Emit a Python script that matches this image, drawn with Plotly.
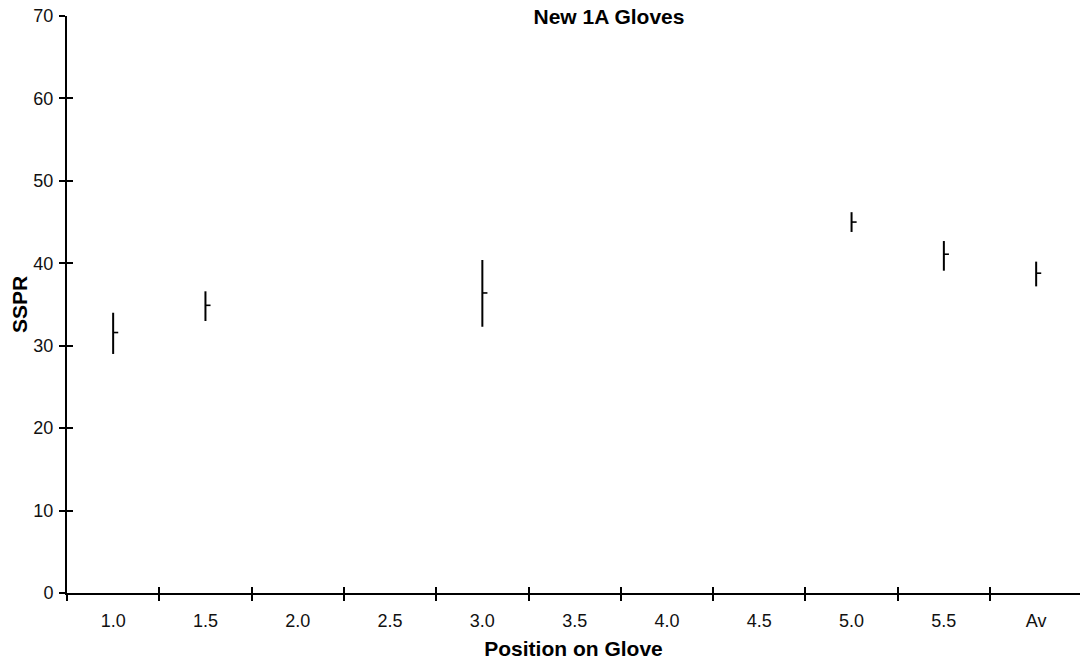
import plotly.graph_objects as go

categories = ["1.0", "1.5", "2.0", "2.5", "3.0", "3.5", "4.0", "4.5", "5.0", "5.5", "Av"]

# measured positions (only those with data)
positions = ["1.0", "1.5", "3.0", "5.0", "5.5", "Av"]
high = [34.0, 36.6, 40.4, 46.2, 42.7, 40.2]
low = [29.0, 33.0, 32.3, 43.8, 39.1, 37.2]
close = [31.6, 34.9, 36.4, 45.0, 41.1, 38.8]

y_ticks = [0, 10, 20, 30, 40, 50, 60, 70]

FONT = "Liberation Sans, Arial, sans-serif"
close_tick = 0.055  # horizontal length of close tick (category units)

# category index of each measured position (the category axis scale)
pos_index = [categories.index(p) for p in positions]

fig = go.Figure()

fig.add_trace(go.Scatter(
    x=pos_index,
    y=close,
    xaxis="x3", yaxis="y",
    mode="markers",
    marker=dict(size=2, color="rgba(0,0,0,0)"),
    error_y=dict(
        type="data", symmetric=False,
        array=[h - c for h, c in zip(high, close)],
        arrayminus=[c - l for c, l in zip(close, low)],
        width=0, thickness=2, color="black",
    ),
    error_x=dict(
        type="data", symmetric=False,
        array=[close_tick] * len(positions),
        arrayminus=[0] * len(positions),
        width=0, thickness=1.6, color="black",
    ),
    showlegend=False,
    hoverinfo="skip",
))

# invisible traces so the category axes (and inside tick overlay) are drawn
fig.add_trace(go.Scatter(
    x=[categories[0]], y=[0],
    mode="markers", marker=dict(color="rgba(0,0,0,0)"),
    showlegend=False, hoverinfo="skip",
))
fig.add_trace(go.Scatter(
    x=[categories[0]], y=[0], xaxis="x2", yaxis="y2",
    mode="markers", marker=dict(color="rgba(0,0,0,0)"),
    showlegend=False, hoverinfo="skip",
))

xrange = [-0.5, 10.475]
common_x = dict(
    type="category", categoryorder="array", categoryarray=categories,
    range=xrange, tickson="boundaries", showgrid=False, zeroline=False,
    automargin=False,
)

fig.update_layout(
    width=1080, height=664,
    margin=dict(l=67, r=0, t=16, b=71, autoexpand=False),
    paper_bgcolor="white", plot_bgcolor="white",
    font=dict(family=FONT, color="black", size=18),
    title=dict(
        text="<b>New 1A Gloves</b>",
        x=609 / 1080, xanchor="center", xref="container",
        y=1 - 17 / 664, yanchor="middle", yref="container",
        automargin=False,
        font=dict(family=FONT, size=21, color="black"),
    ),
    xaxis=dict(
        **common_x,
        showline=True, linecolor="black", linewidth=2,
        ticks="outside", ticklen=6, tickwidth=2, tickcolor="black",
        tickfont=dict(family=FONT, size=18, color="#111"),
        ticklabelstandoff=10, ticklabeloverflow="allow",
        title=dict(text="<b>Position on Glove</b>", standoff=12,
                   font=dict(family=FONT, size=21, color="black")),
    ),
    yaxis=dict(
        range=[0, 70], tickvals=y_ticks, showgrid=False, zeroline=False,
        showline=True, linecolor="black", linewidth=2,
        ticks="outside", ticklen=6, tickwidth=2, tickcolor="black",
        tickfont=dict(family=FONT, size=18, color="#111"),
        ticklabelstandoff=2, automargin=False, ticklabeloverflow="allow",
        title=dict(text="<b>SSPR</b>", standoff=0,
                   font=dict(family=FONT, size=21, color="black")),
    ),
    xaxis2=dict(
        **common_x, overlaying="x", anchor="y2",
        showline=False, ticks="inside", ticklen=6, tickwidth=2, tickcolor="black",
        showticklabels=False,
    ),
    yaxis2=dict(
        range=[0, 70], tickvals=y_ticks, overlaying="y", anchor="x2",
        showgrid=False, zeroline=False, showline=False, automargin=False,
        ticks="inside", ticklen=6, tickwidth=2, tickcolor="black",
        showticklabels=False,
    ),
    xaxis3=dict(
        range=xrange, overlaying="x", anchor="y", visible=False,
        showgrid=False, zeroline=False, automargin=False,
    ),
)

fig.write_html(
    "out.html",
    config={"displayModeBar": False},
    post_script="document.body.style.margin='0';document.body.style.padding='0';",
)
